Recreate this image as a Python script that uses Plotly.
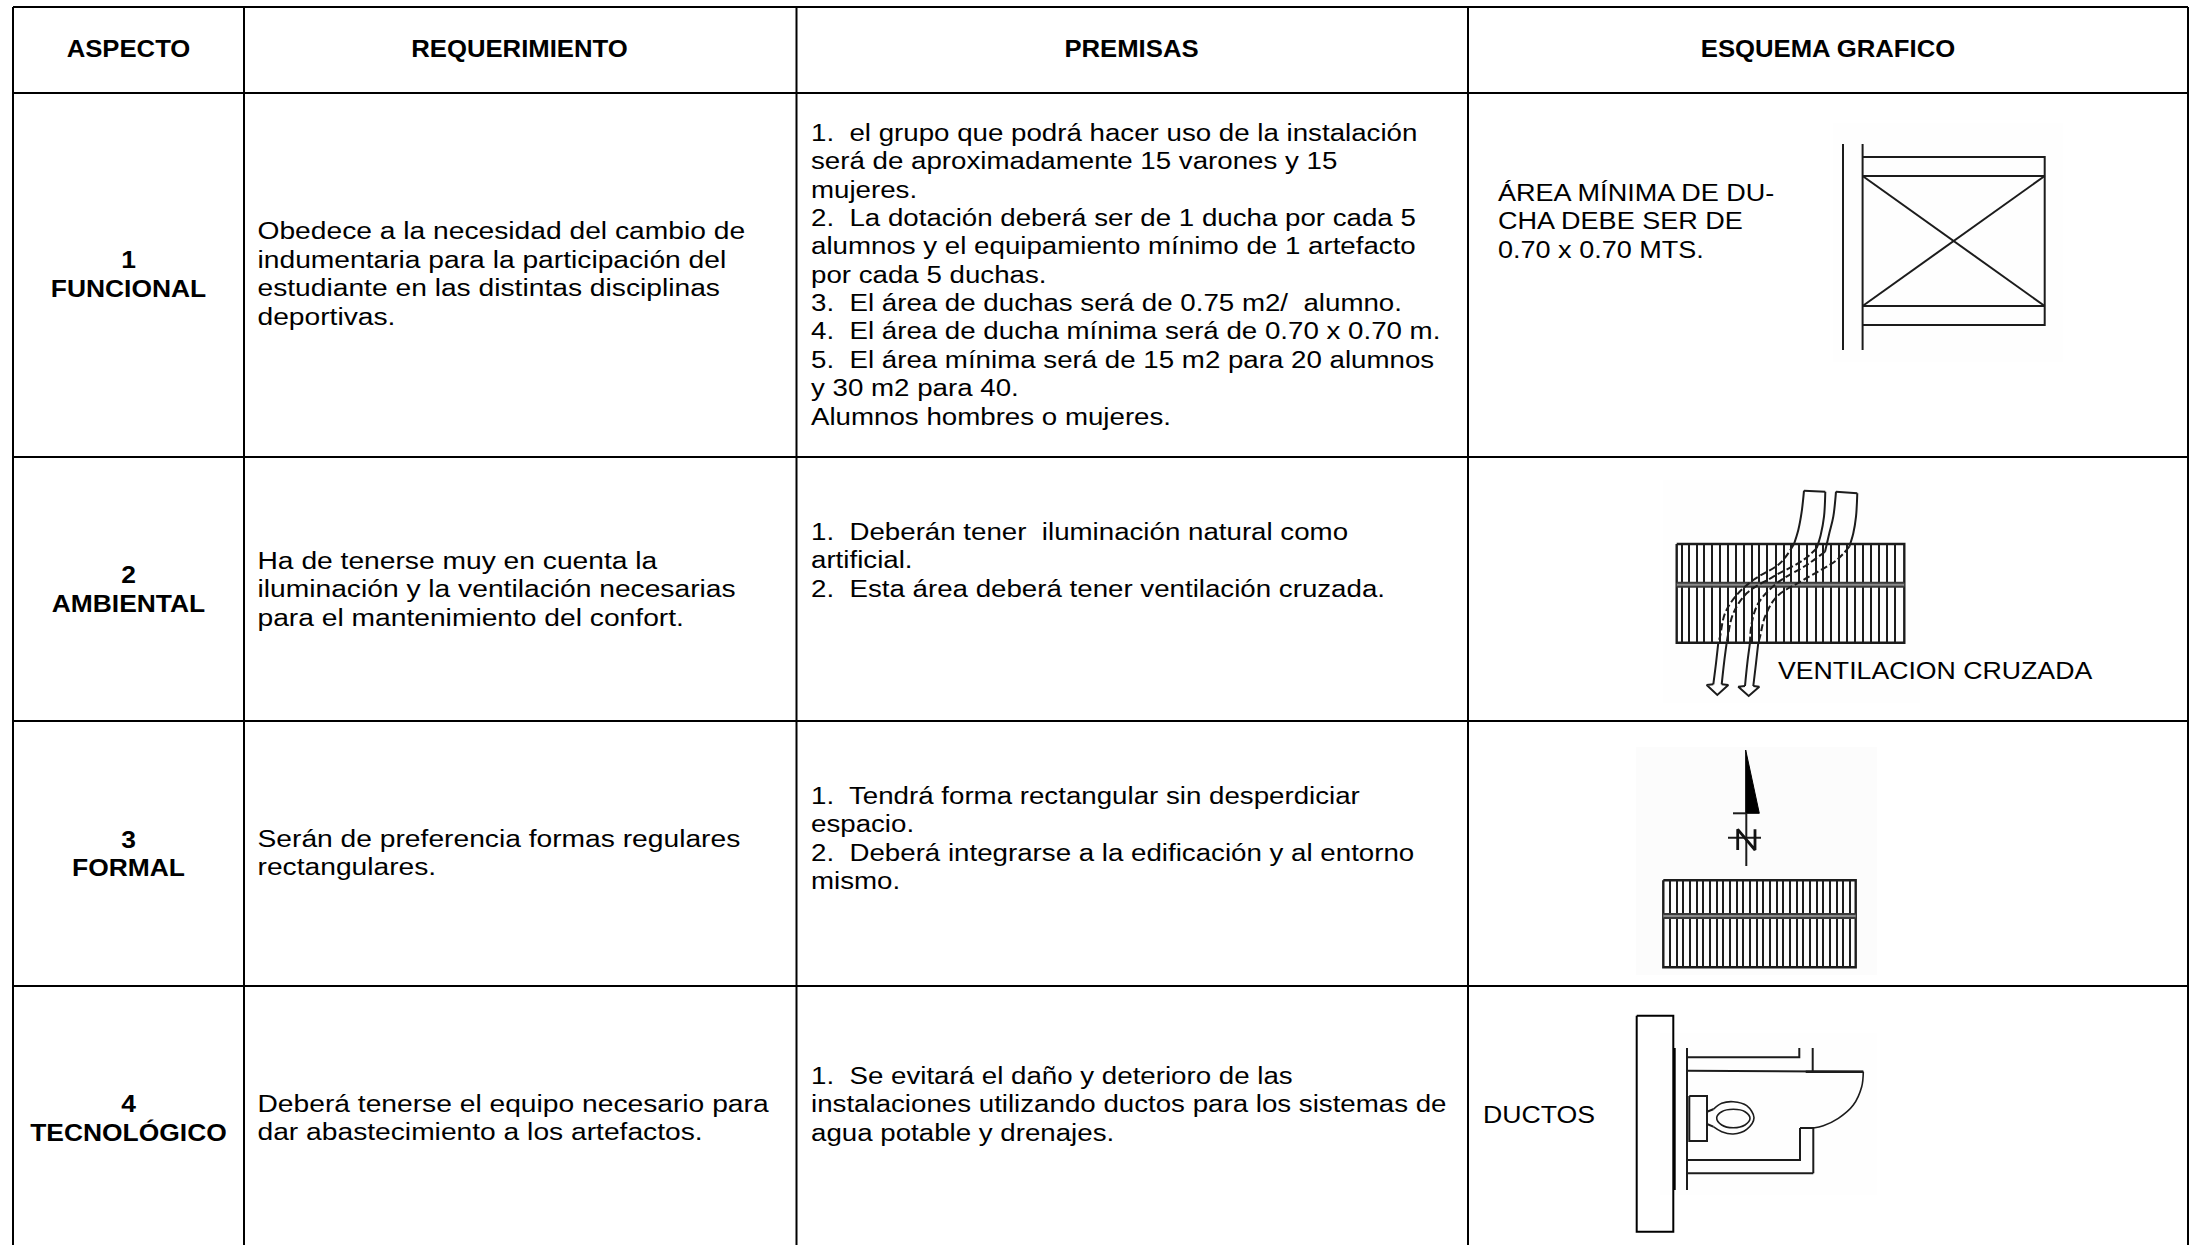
import json
import plotly.graph_objects as go

FONT = "Liberation Sans"
BODY_SIZE = 23.5
HEAD_SIZE = 24
REQ_STRETCH = 1.20
PREM_STRETCH = 1.178
NOTE_STRETCHES = [1.15, 1.15, 1.15, 1.135, 1.135]
HEAD_STRETCH = 1.07
ASPECT_STRETCH = 1.10
TEXT_SHIFT = 2
INK = "#000000"
SCAN = "#1c1c1c"

# ---------- table grid (page pixels) ----------
grid_x = [13, 244, 796.5, 1468, 2188]
grid_y = [7, 93, 457, 721, 986]
page_bottom = 1245

# ---------- text ----------
headers = ["ASPECTO", "REQUERIMIENTO", "PREMISAS", "ESQUEMA GRAFICO"]
header_x = [128.5, 519.5, 1131.5, 1828]
header_y = 49

aspect_lines = ["1", "FUNCIONAL", "2", "AMBIENTAL", "3", "FORMAL", "4", "TECNOLÓGICO"]
aspect_y = [260, 288.5, 575, 603.5, 839.5, 867.5, 1104, 1132.5]
aspect_x = 128.5

req_lines = [
    "Obedece a la necesidad del cambio de",
    "indumentaria para la participación del",
    "estudiante en las distintas disciplinas",
    "deportivas.",
    "Ha de tenerse muy en cuenta la",
    "iluminación y la ventilación necesarias",
    "para el mantenimiento del confort.",
    "Serán de preferencia formas regulares",
    "rectangulares.",
    "Deberá tenerse el equipo necesario para",
    "dar abastecimiento a los artefactos.",
]
req_y = [231.5, 260, 288.5, 317, 561, 589.5, 618, 839.5, 867.5, 1104, 1132.5]
req_x = 257.5

prem_lines = [
    "1.  el grupo que podrá hacer uso de la instalación",
    "será de aproximadamente 15 varones y 15",
    "mujeres.",
    "2.  La dotación deberá ser de 1 ducha por cada 5",
    "alumnos y el equipamiento mínimo de 1 artefacto",
    "por cada 5 duchas.",
    "3.  El área de duchas será de 0.75 m2/  alumno.",
    "4.  El área de ducha mínima será de 0.70 x 0.70 m.",
    "5.  El área mínima será de 15 m2 para 20 alumnos",
    "y 30 m2 para 40.",
    "Alumnos hombres o mujeres.",
    "1.  Deberán tener  iluminación natural como",
    "artificial.",
    "2.  Esta área deberá tener ventilación cruzada.",
    "1.  Tendrá forma rectangular sin desperdiciar",
    "espacio.",
    "2.  Deberá integrarse a la edificación y al entorno",
    "mismo.",
    "1.  Se evitará el daño y deterioro de las",
    "instalaciones utilizando ductos para los sistemas de",
    "agua potable y drenajes.",
]
prem_y = [133, 161.5, 190, 218, 246.5, 275, 303, 331.5, 360, 388.5, 417,
          532, 560.5, 589, 796, 824.5, 853, 881.5, 1076, 1104.5, 1133]
prem_x = 811

note_lines = ["ÁREA MÍNIMA DE DU-", "CHA DEBE SER DE", "0.70 x 0.70 MTS.", "VENTILACION CRUZADA", "DUCTOS"]
note_x = [1498, 1498, 1498, 1778, 1483]
note_y = [193, 221, 250, 671.5, 1115]

# ---------- faint scan backgrounds: x0, x1, y0, y1 ----------
scan_patches = [
    [1833, 2063, 123, 362],
    [1663, 1920, 480, 703],
    [1636, 1877, 747, 975],
    [1660, 1877, 1033, 1195],
]
scan_colors = ["#fefefe", "#fefefe", "#fcfcfc", "#fefefe"]

# ---------- shower sketch ----------
shower_walls = [
    ([1843, 1843], [144, 350]),
    ([1862.6, 1862.6], [144, 350]),
    ([1862.6, 2044.7, 2044.7, 1862.6], [157, 157, 325, 325]),
    ([1862.6, 2044.7], [176, 176]),
    ([1862.6, 2044.7], [306, 306]),
    ([1862.6, 2044.7], [176, 306]),
    ([2044.7, 1862.6], [176, 306]),
]

# ---------- ventilated block ----------
vent_box = ([1676.7, 1904.3, 1904.3, 1676.7, 1676.7], [544, 544, 642.7, 642.7, 544])
vent_band = [582.8, 586.7]
vent_band_mid = 584.8
vent_bars = [1682, 1689, 1697, 1704, 1712, 1720, 1728, 1736, 1744, 1752, 1759, 1767, 1776, 1784,
             1791, 1799, 1807, 1816, 1823, 1831, 1839, 1847, 1855, 1863, 1871, 1879, 1887, 1895]

stream_solid = [
    ([1804, 1801.7, 1798.3, 1794], [490.7, 511.7, 530, 544]),
    ([1825.3, 1824, 1820.7, 1816.7], [491.7, 516.7, 535, 548.3]),
    ([1836, 1833.3, 1829.3, 1825], [491.7, 516.7, 533.3, 551.7]),
    ([1857.3, 1856, 1853.3, 1849.3], [493.3, 516.7, 533.3, 546.7]),
    ([1718.3, 1716, 1713.3], [642.7, 663.3, 684.3]),
    ([1726.7, 1724, 1721.7], [642.7, 663.3, 684.3]),
    ([1750, 1747.3, 1745], [642.7, 663.3, 686]),
    ([1758.3, 1756, 1753.3], [642.7, 663.3, 686]),
]
stream_caps = [
    ([1804, 1825.3], [490.7, 491.7]),
    ([1836, 1857.3], [491.7, 493.3]),
]
stream_dashed = [
    ([1794, 1780, 1753.3, 1736.7, 1725, 1720, 1718.3], [544, 563.3, 580, 595, 613.3, 636.7, 642.7]),
    ([1816.7, 1803.3, 1773.3, 1746.7, 1733.3, 1728.3, 1726.7], [548.3, 560, 576.7, 593.3, 613.3, 633.3, 642.7]),
    ([1825, 1806.7, 1776.7, 1758.3, 1751.7, 1750], [551.7, 565, 583.3, 603.3, 623.3, 642.7]),
    ([1849.3, 1836.7, 1803.3, 1776.7, 1765, 1760, 1758.3], [546.7, 560, 580, 596.7, 616.7, 636.7, 642.7]),
]
arrow_heads = [
    ([1713.3, 1706.7, 1717.3, 1728.3, 1721.7], [684.3, 685, 695, 685, 684.3]),
    ([1745, 1738.3, 1748.7, 1759.3, 1753.3], [686, 686.7, 696, 686.7, 686]),
]

# ---------- north arrow and block ----------
north_blade = ([1745.7, 1759.3, 1745.7, 1745.7], [750, 813.3, 813.3, 750])
north_lines = [
    ([1733, 1746], [813.3, 813.3]),
    ([1746.3, 1746.3], [813, 866]),
    ([1728, 1761], [837.7, 837.7]),
]
north_letter = ([1737.7, 1737.7, 1755, 1755], [850, 829.3, 850, 829.3])
block_box = ([1663.3, 1855.7, 1855.7, 1663.3, 1663.3], [880.3, 880.3, 967.3, 967.3, 880.3])
block_band = [914, 918]
block_band_mid = 916
block_bars = [1670, 1677, 1683, 1690, 1697, 1703, 1710, 1717, 1723, 1730, 1737, 1743, 1750, 1757,
              1763, 1770, 1777, 1783, 1790, 1797, 1803, 1810, 1817, 1823, 1830, 1837, 1843, 1850]

# ---------- duct and toilet sketch ----------
duct_box = ([1636.7, 1673.3, 1673.3, 1636.7, 1636.7], [1015.7, 1015.7, 1231.7, 1231.7, 1015.7])
duct_wall = ([1674.5, 1674.5], [1048, 1190])
toilet_lines = [
    ([1687, 1687], [1048, 1190]),
    ([1687, 1799.3, 1799.3], [1057.3, 1057.3, 1048]),
    ([1812.7, 1812.7], [1048, 1071.7]),
    ([1687, 1863.3], [1070.7, 1071.7]),
    ([1800, 1813.3, 1813.3], [1128, 1128, 1173.3]),
    ([1800, 1800, 1687], [1128, 1160, 1160]),
    ([1813.3, 1687], [1173.3, 1173.3]),
    ([1689.3, 1707, 1707, 1689.3, 1689.3], [1096, 1096, 1141, 1141, 1096]),
    ([1707, 1713.3], [1111.7, 1109.3]),
    ([1707, 1713.3], [1124, 1126.7]),
]
toilet_thick = ([1805.7, 1863.3], [1071.7, 1071.7])
door_arc = ([1863.3, 1861.7, 1853.3, 1838.3, 1823.3, 1813.3], [1071.7, 1086.7, 1105, 1118.3, 1125.7, 1128])
bowl_outer = ([1713.3, 1721.7, 1733.3, 1746.7, 1754, 1746.7, 1733.3, 1721.7, 1713.3],
              [1109.3, 1103.3, 1101.7, 1105.7, 1117.7, 1129.3, 1134, 1131.7, 1126.7])
bowl_inner = ([1716.7, 1721.7, 1733.3, 1745, 1750, 1745, 1733.3, 1721.7, 1716.7],
              [1117.7, 1111.7, 1109.3, 1111.7, 1118.3, 1125, 1127.7, 1125, 1117.7])


def line_trace(x, y, width=2, color=SCAN, dash="solid", shape="linear", fill=None):
    return go.Scatter(x=x, y=y, mode="lines", fill=fill, fillcolor=color if fill else None,
                      line=dict(color=color, width=width, dash=dash, shape=shape),
                      hoverinfo="skip", showlegend=False)


def text_trace(x, y, text, position, size, weight="normal"):
    return go.Scatter(x=x, y=[v + TEXT_SHIFT for v in y], text=text, mode="text", textposition=position,
                      textfont=dict(family=FONT, size=size, color=INK, weight=weight),
                      hoverinfo="skip", showlegend=False)


fig = go.Figure()

for (x0, x1, y0, y1), patch_color in zip(scan_patches, scan_colors):
    fig.add_trace(line_trace([x0, x1, x1, x0, x0], [y0, y0, y1, y1, y0], width=0, color=patch_color, fill="toself"))

# grid
for gx in grid_x:
    fig.add_trace(line_trace([gx, gx], [grid_y[0], page_bottom], width=2, color=INK))
for gy in grid_y:
    fig.add_trace(line_trace([grid_x[0], grid_x[-1]], [gy, gy], width=2, color=INK))

# shower
for x, y in shower_walls:
    fig.add_trace(line_trace(x, y))

# ventilated block
fig.add_trace(line_trace(*vent_box, width=2.4))
for b in vent_bars:
    fig.add_trace(line_trace([b, b], [vent_box[1][0], vent_box[1][2]], width=2))
fig.add_trace(line_trace([vent_box[0][0], vent_box[0][1]], [vent_band_mid, vent_band_mid], width=4, color="#8a8a8a"))
for b in vent_band:
    fig.add_trace(line_trace([vent_box[0][0], vent_box[0][1]], [b, b], width=2, color="#3a3a3a"))
for x, y in stream_solid:
    fig.add_trace(line_trace(x, y, shape="spline"))
for x, y in stream_caps + arrow_heads:
    fig.add_trace(line_trace(x, y))
for x, y in stream_dashed:
    fig.add_trace(line_trace(x, y, shape="spline", dash="7px,3px"))

# north arrow + block
fig.add_trace(line_trace(*north_blade, width=1, color=INK, fill="toself"))
for x, y in north_lines:
    fig.add_trace(line_trace(x, y))
fig.add_trace(line_trace(*north_letter, width=2.8, color="#111111"))
fig.add_trace(line_trace(*block_box, width=2.4))
for b in block_bars:
    fig.add_trace(line_trace([b, b], [block_box[1][0], block_box[1][2]], width=2))
fig.add_trace(line_trace([block_box[0][0], block_box[0][1]], [block_band_mid, block_band_mid], width=4, color="#8a8a8a"))
for b in block_band:
    fig.add_trace(line_trace([block_box[0][0], block_box[0][1]], [b, b], width=2, color="#3a3a3a"))

# ducts + toilet
fig.add_trace(line_trace(*duct_box, width=2, color=INK))
fig.add_trace(line_trace(*duct_wall, width=2.4, color=INK))
for x, y in toilet_lines:
    fig.add_trace(line_trace(x, y))
fig.add_trace(line_trace(*toilet_thick, width=2.6))
for arc in (door_arc, bowl_outer, bowl_inner):
    fig.add_trace(line_trace(*arc, shape="spline", width=1.6))

# text
fig.add_trace(text_trace(header_x, [header_y] * len(headers), headers, "middle center", HEAD_SIZE, "bold"))
fig.add_trace(text_trace([aspect_x] * len(aspect_lines), aspect_y, aspect_lines, "middle center", HEAD_SIZE, "bold"))
fig.add_trace(text_trace([req_x] * len(req_lines), req_y, req_lines, "middle right", BODY_SIZE))
fig.add_trace(text_trace([prem_x] * len(prem_lines), prem_y, prem_lines, "middle right", BODY_SIZE))
fig.add_trace(text_trace(note_x, note_y, note_lines, "middle right", BODY_SIZE))

fig.update_layout(
    width=2194, height=1245, autosize=False,
    margin=dict(l=0, r=0, t=0, b=0),
    paper_bgcolor="white", plot_bgcolor="white",
    xaxis=dict(range=[0, 2194], visible=False, fixedrange=True),
    yaxis=dict(range=[1245, 0], visible=False, fixedrange=True),
    showlegend=False,
)

# The reference's lettering is stretched sideways, so each line is widened after drawing.
stretch = {}
for lines, factor in ((headers, HEAD_STRETCH), (aspect_lines, ASPECT_STRETCH),
                      (req_lines, REQ_STRETCH), (prem_lines, PREM_STRETCH)):
    for line in lines:
        stretch[line] = factor
stretch.update(zip(note_lines, NOTE_STRETCHES))
stretch_js = (
    "document.body.style.margin='0';document.body.style.overflow='hidden';"
    "var stretchBy=" + json.dumps(stretch, ensure_ascii=False) + ";"
    "document.querySelectorAll('.textpoint text').forEach(function(t){"
    "var s=stretchBy[t.textContent]||1;"
    "t.setAttribute('textLength',t.getComputedTextLength()*s);"
    "t.setAttribute('lengthAdjust','spacingAndGlyphs');});"
)
fig.write_html("out.html", config={"displayModeBar": False}, post_script=stretch_js)
